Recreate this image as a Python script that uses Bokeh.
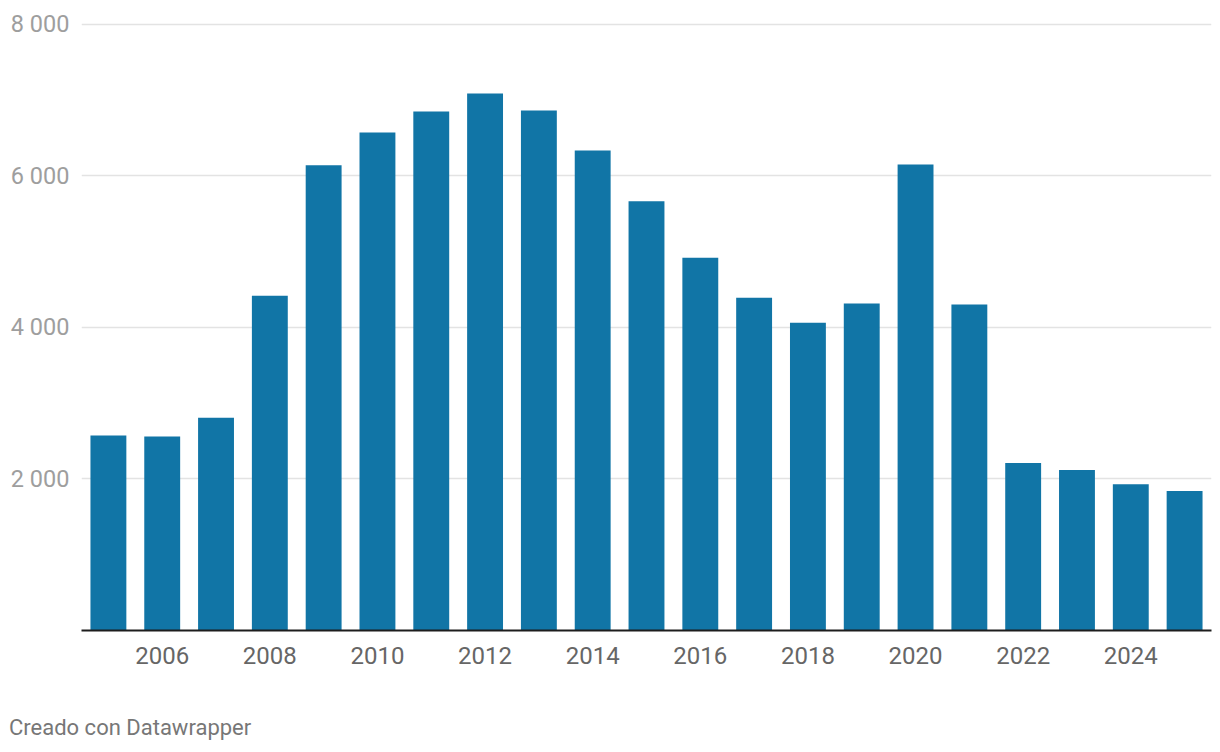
from bokeh.plotting import figure
from bokeh.models import Range1d, FixedTicker, Div
from bokeh.layouts import column
from bokeh.embed import file_html
from bokeh.resources import INLINE

years = list(range(2005, 2026))
values = [2575, 2560, 2810, 4420, 6140, 6575, 6850, 7090, 6865, 6335, 5665,
          4920, 4392, 4062, 4315, 6152, 4303, 2210, 2118, 1932, 1840]
y_ticks = [2000, 4000, 6000, 8000]
y_tick_labels = ["2 000", "4 000", "6 000", "8 000"]
x_ticks = list(range(2006, 2026, 2))
credit = "Creado con Datawrapper"

BAR = "#1175a6"
FONT = "Roboto"

# a little headroom above the top gridline so it is not clipped by the frame
p = figure(width=1214, height=688, output_backend="svg", toolbar_location=None,
           x_range=Range1d(2004.5, 2025.5), y_range=Range1d(0, 8026),
           min_border_left=81, min_border_right=3, min_border_top=22,
           min_border_bottom=58)
p.outline_line_color = None
p.background_fill_color = "white"
p.border_fill_color = "white"

p.vbar(x=years, top=values, width=0.667, bottom=0, color=BAR, line_color=None)

# y axis
p.yaxis.ticker = FixedTicker(ticks=y_ticks)
p.yaxis.major_label_overrides = dict(zip(y_ticks, y_tick_labels))
p.yaxis.axis_line_color = None
p.yaxis.major_tick_line_color = None
p.yaxis.minor_tick_line_color = None
p.yaxis.major_label_standoff = 6
p.yaxis.major_label_text_font = FONT
p.yaxis.major_label_text_font_size = "23.5px"
p.yaxis.major_label_text_color = "#9e9e9e"

# x axis
p.xaxis.ticker = FixedTicker(ticks=x_ticks)
p.xaxis.axis_line_color = "#1d1d1d"
p.xaxis.axis_line_width = 2
p.xaxis.major_tick_line_color = None
p.xaxis.minor_tick_line_color = None
p.xaxis.major_label_standoff = 10
p.xaxis.major_label_text_font = FONT
p.xaxis.major_label_text_font_size = "24px"
p.xaxis.major_label_text_color = "#666666"

p.xgrid.grid_line_color = None
p.ygrid.ticker = FixedTicker(ticks=y_ticks)
p.ygrid.grid_line_color = "#e3e3e3"
p.ygrid.grid_line_width = 1.5

div = Div(text=credit, width=1214, height=40, margin=(27, 0, 0, 9),
          styles={"font-family": FONT, "font-size": "22px", "color": "#777777",
                  "line-height": "26px"})

layout = column(p, div, spacing=0)

open("out.html", "w").write(file_html(layout, INLINE))
